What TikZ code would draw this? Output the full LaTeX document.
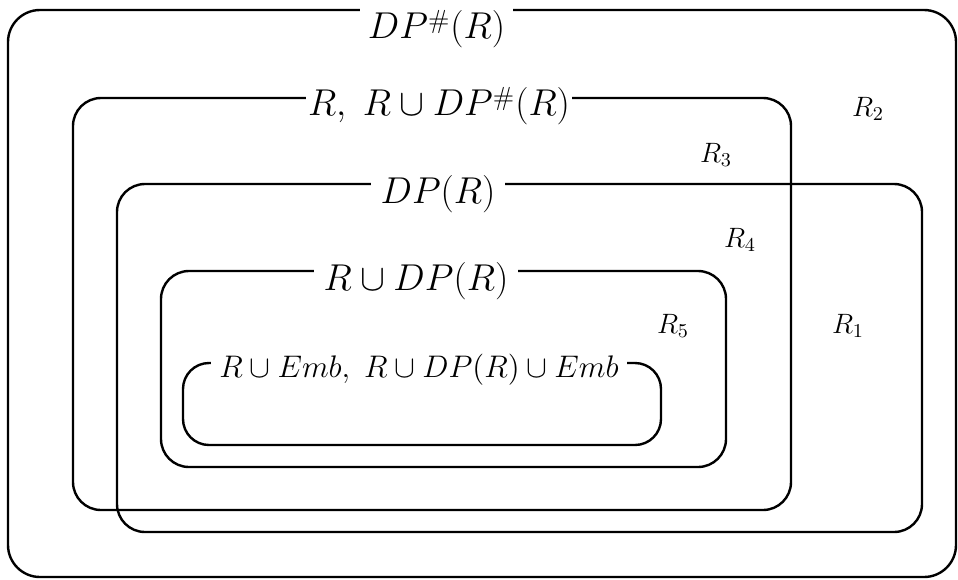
\documentclass[tikz,border=0pt]{standalone}
\usepackage{fix-cm}
\usepackage{amsmath}
\usepackage{amssymb}
\usepackage{tikz}
\usetikzlibrary{
  fit,
  positioning
}

\newcommand{\lowsharp}{\raisebox{-2.5pt}{$\scriptstyle\#$}}

\begin{document}
\begin{tikzpicture}[
      x=0.5pt, y=-0.5pt,
      region/.style={
         rectangle,
         draw=black,
         line width=1.2pt,
         rounded corners=14pt,
         inner sep=0pt
      },
      setname/.style={
         fill=white,
         anchor=base,
         inner ysep=3pt,
         inner xsep=#1,
         font=\fontsize{18.7}{22}\selectfont
      },
      setname/.default=4pt,
      part/.style={
         anchor=base,
         inner sep=0pt,
         font=\fontsize{14}{17}\selectfont
      }
    ]
    \useasboundingbox (0,0) rectangle (958,579);
    % nested regions
    \node (box1) [region, rounded corners=16pt, fit={(8,10) (956,577)}] {};
    \node (box2) [region, fit={(73,98) (791,510)}] {};
    \node (box3) [region, fit={(117,184) (922,532)}] {};
    \node (box4) [region, fit={(161,271) (726,467)}] {};
    \node (box5) [region, rounded corners=13pt, fit={(183,363) (661,445)}] {};
    % names on the top edges
    \node (lab1) [setname=4pt] at (436.5,38) {$DP^{\lowsharp}(R)$};
    \node (lab2) [setname=1pt] at (439,115) {$R,\;R\cup DP^{\lowsharp}(R)$};
    \node (lab3) [setname=5pt] at (438,203) {$DP(R)$};
    \node (lab4) [setname=5pt] at (416,290) {$R\cup DP(R)$};
    \node (lab5) [setname=4pt, font=\fontsize{15.6}{19}\selectfont] at (419,377) {$R\cup Emb,\;R\cup DP(R)\cup Emb$};
    % parts
    \node (r2) [part] at (868,116) {$R_2$};
    \node (r3) [part] at (716,162) {$R_3$};
    \node (r4) [part] at (740,247) {$R_4$};
    \node (r5) [part] at (673,333) {$R_5$};
    \node (r1) [part] at (848,333) {$R_1$};
\end{tikzpicture}
\end{document}
